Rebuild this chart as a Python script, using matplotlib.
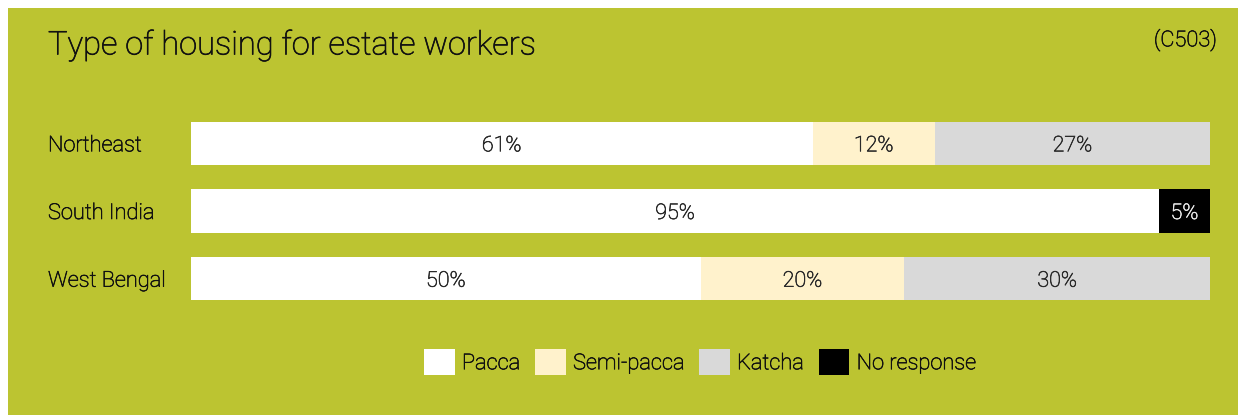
import matplotlib
matplotlib.use('Agg')
import matplotlib.pyplot as plt
import matplotlib.patheffects as pe
from matplotlib.patches import Rectangle, Patch
from matplotlib.transforms import blended_transform_factory

regions = ['Northeast', 'South India', 'West Bengal']
categories = ['Pacca', 'Semi-pacca', 'Katcha', 'No response']
pacca = [61, 95, 50]
semi_pacca = [12, 0, 20]
katcha = [27, 0, 30]
no_response = [0, 5, 0]

colors = ['#ffffff', '#fff2cc', '#d9d9d9', '#000000']
text_colors = ['#2a2a2a', '#2a2a2a', '#2a2a2a', '#e6e6e6']
bg = '#bcc431'

plt.rcParams['font.family'] = ['Roboto', 'DejaVu Sans']
plt.rcParams['font.weight'] = 'light'


def thicken(t, color, lw=0.45):
    # agg draws Roboto Light a bit too thin/grey, add a hairline stroke
    t.set_path_effects([pe.withStroke(linewidth=lw, foreground=color)])
    return t


W, H = 1238, 415
fig = plt.figure(figsize=(W / 100, H / 100), dpi=100)
fig.patch.set_facecolor('white')
fig.add_artist(Rectangle((8 / W, 0), 1 - 8 / W, 1 - 8 / H, transform=fig.transFigure,
                         facecolor=bg, edgecolor='none', zorder=0))

ax = fig.add_axes([191 / W, 1 - 312.5 / H, (1210 - 191) / W, 203 / H])
ax.set_facecolor('none')

series = [pacca, semi_pacca, katcha, no_response]
left = [0, 0, 0]
for vals, col, tcol in zip(series, colors, text_colors):
    for i, v in enumerate(vals):
        if v == 0:
            continue
        ax.barh(i, v, left=left[i], height=0.64, color=col, edgecolor='none')
        t = ax.text(left[i] + v / 2, i, '%d%%' % v, ha='center', va='center_baseline',
                    fontsize=15.5, color=tcol)
        thicken(t, tcol)
        left[i] += v

ax.set_xlim(0, 100)
ax.set_ylim(2.5, -0.5)
ax.axis('off')

lab_tr = blended_transform_factory(fig.transFigure, ax.transData)
for i, r in enumerate(regions):
    t = ax.text(48 / W, i, r, transform=lab_tr, fontsize=15.7, color='#111111',
                ha='left', va='center_baseline')
    thicken(t, '#111111')

t = fig.text(48 / W, 1 - 45 / H, 'Type of housing for estate workers', fontsize=23.5,
             color='#111111', ha='left', va='center')
thicken(t, '#111111', 0.5)
t = fig.text(1217 / W, 1 - 40 / H, '(C503)', fontsize=15.7, color='#111111', ha='right',
             va='center')
thicken(t, '#111111')

handles = [Patch(facecolor=c, edgecolor='none') for c in colors]
leg = fig.legend(handles, categories, loc='center', bbox_to_anchor=(700 / W, 1 - 362 / H),
                 ncol=4, frameon=False, prop={'size': 15.7},
                 handlelength=1.4, handleheight=1.4,
                 handletextpad=0.33, columnspacing=0.7, borderpad=0)
for t in leg.get_texts():
    t.set_color('#111111')
    thicken(t, '#111111')

fig.savefig('out.png', dpi=100, facecolor=fig.get_facecolor())
